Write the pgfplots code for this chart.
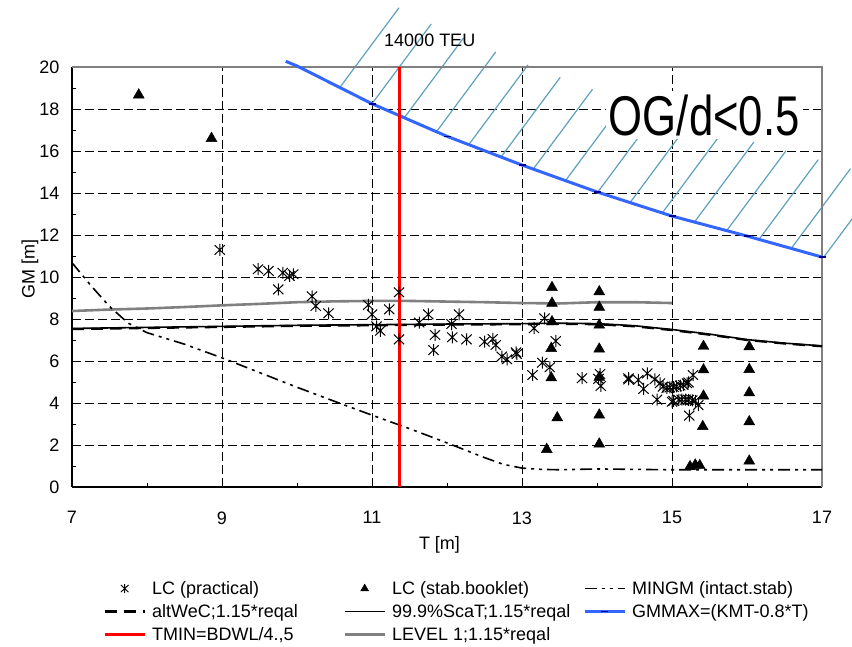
\documentclass[border=0pt]{standalone}
\usepackage{fontspec}
\setmainfont{Liberation Sans}
\usepackage{pgfplots}
\pgfplotsset{compat=1.18}
\usepackage{graphicx}

\definecolor{gmmaxblue}{RGB}{51,102,255}
\definecolor{markblue}{RGB}{0,0,150}
\definecolor{hatchblue}{RGB}{95,160,190}
\definecolor{levelgray}{RGB}{128,128,128}
\definecolor{tminred}{RGB}{255,0,0}

\newcommand{\labelfont}{\fontsize{18}{21}\selectfont}
\newcommand{\lentry}[1]{\makebox[191pt][l]{#1}}
\newcommand{\lentryb}[1]{\makebox[191pt][l]{#1}}

% star mark: vertical bar crossed by an X
\pgfdeclareplotmark{xstar}{%
  \pgfpathmoveto{\pgfqpoint{0pt}{\pgfplotmarksize}}%
  \pgfpathlineto{\pgfqpoint{0pt}{-\pgfplotmarksize}}%
  \pgfpathmoveto{\pgfqpoint{-0.85\pgfplotmarksize}{0.8\pgfplotmarksize}}%
  \pgfpathlineto{\pgfqpoint{0.85\pgfplotmarksize}{-0.8\pgfplotmarksize}}%
  \pgfpathmoveto{\pgfqpoint{-0.85\pgfplotmarksize}{-0.8\pgfplotmarksize}}%
  \pgfpathlineto{\pgfqpoint{0.85\pgfplotmarksize}{0.8\pgfplotmarksize}}%
  \pgfusepathqstroke}

\begin{document}
\begin{tikzpicture}
\path[use as bounding box] (-72pt,-159pt) rectangle (780pt,487pt);
\begin{axis}[
  at={(0pt,0pt)}, anchor=south west,
  scale only axis, width=750pt, height=420pt,
  xmin=7, xmax=17, ymin=0, ymax=20,
  clip=false,
  axis x line=bottom, axis y line=left,
  axis line style={-, line width=1.2pt, black},
  xtick={7,9,...,17}, minor xtick={8,10,...,16},
  ytick={0,2,...,20}, minor ytick={1,3,...,19},
  tick align=inside, major tick length=0pt, minor tick length=4pt,
  tick style={black, line width=0.8pt},
  grid=major,
  major grid style={black, line width=0.6pt, dash pattern=on 9pt off 4pt},
  /pgf/number format/assume math mode=true,
  tick label style={font=\labelfont},
  xticklabel style={yshift=-21pt},
  yticklabel style={xshift=-9pt},
  xlabel={T [m]}, ylabel={GM [m]},
  every axis x label/.style={at={(axis description cs:0.49,-0.138)}, anchor=center, font=\labelfont},
  every axis y label/.style={at={(axis description cs:-0.056,0.52)}, rotate=90, anchor=center, font=\labelfont},
  legend columns=3,
  legend style={
    at={(axis description cs:0.0413,-0.224)}, anchor=north west,
    draw=none, fill=none, font=\labelfont,
    inner sep=0pt, row sep=8.5pt,
    /tikz/every odd column/.append style={column sep=6pt},
    nodes={inner sep=0pt, anchor=west},
  },
  legend cell align=left,
  legend image code/.code={\draw[mark repeat=2,mark phase=2,#1] plot coordinates {(0pt,0pt) (20pt,0pt) (40pt,0pt)};},
]

% hatching above the GMMAX limit
\addplot[hatchblue, line width=1.2pt, unbounded coords=jump, forget plot] coordinates {
  (10.57,19.02) (11.36,22.82) (nan,nan)
  (11.00,18.25) (11.79,22.05) (nan,nan)
  (11.43,17.58) (12.22,21.38) (nan,nan)
  (11.86,16.92) (12.65,20.72) (nan,nan)
  (12.29,16.30) (13.08,20.10) (nan,nan)
  (12.72,15.71) (13.51,19.51) (nan,nan)
  (13.15,15.14) (13.94,18.94) (nan,nan)
  (13.58,14.59) (14.37,18.39) (nan,nan)
  (14.01,14.04) (14.80,17.84) (nan,nan)
  (14.44,13.54) (15.23,17.34) (nan,nan)
  (14.87,13.05) (15.66,16.85) (nan,nan)
  (15.30,12.62) (16.09,16.42) (nan,nan)
  (15.73,12.21) (16.52,16.01) (nan,nan)
  (16.16,11.79) (16.95,15.59) (nan,nan)
  (16.59,11.36) (17.38,15.16) (nan,nan)
  (17.02,10.93) (17.81,14.73)
};

% frame on top and right
\draw[levelgray, line width=1.2pt] (rel axis cs:0,1) -- (rel axis cs:1,1) -- (rel axis cs:1,0);

% LEVEL 1
\addplot[levelgray, line width=2.6pt, forget plot] coordinates {
  (7,8.38) (7.5,8.45) (8,8.5) (8.5,8.57) (9,8.65) (9.5,8.72) (10,8.8) (10.5,8.84)
  (11,8.86) (11.5,8.86) (12,8.83) (12.5,8.8) (13,8.76) (13.5,8.74) (14,8.8) (14.5,8.8) (15,8.76)
};
% 99.9%ScaT
\addplot[black, line width=1.6pt, forget plot] coordinates {
  (7,7.55) (8,7.6) (9,7.65) (10,7.7) (11,7.73) (12,7.76) (13,7.78) (13.5,7.8) (14,7.78)
  (14.5,7.68) (15,7.5) (15.5,7.28) (16,7.02) (16.5,6.85) (17,6.72)
};
% altWeC
\addplot[black, line width=2.2pt, dash pattern=on 12pt off 7pt, forget plot] coordinates {
  (7,7.52) (8,7.57) (9,7.62) (10,7.67) (11,7.7) (12,7.73) (13,7.75) (13.5,7.77) (14,7.75)
  (14.5,7.65) (15,7.47) (15.5,7.25) (16,7.0) (16.5,6.83) (17,6.7)
};
% MINGM
\addplot[black, line width=1.6pt, dash pattern=on 12pt off 5pt on 3pt off 5pt on 3pt off 5pt, forget plot] coordinates {
  (7,10.68) (7.25,9.6) (7.5,8.6) (7.75,7.8) (8,7.35) (8.5,6.8) (9,6.15) (9.5,5.45) (10,4.75)
  (10.5,4.08) (11,3.42) (11.5,2.78) (12,2.1) (12.5,1.4) (12.75,1.08) (13,0.9) (13.25,0.84)
  (13.5,0.82) (14,0.86) (14.5,0.84) (15,0.82) (16,0.82) (17,0.82)
};
% GMMAX
\addplot[gmmaxblue, line width=3pt, forget plot] coordinates {
  (9.85,20.27) (10,20.05) (11,18.25) (12,16.7) (13,15.33) (14,14.05) (15,12.9) (16,11.95) (17,10.95)
};
\addplot[only marks, mark=-, mark size=3.5pt, mark options={draw=markblue, line width=1.6pt}, forget plot] coordinates {
  (11,18.25) (12,16.7) (13,15.33) (14,14.05) (15,12.9) (16,11.95) (17,10.95)
};
% TMIN
\addplot[tminred, line width=3pt, forget plot] coordinates {(11.37,0) (11.37,20)};

% LC (stab.booklet)
\addplot[only marks, mark=triangle*, mark size=6.3pt, black, forget plot] coordinates {
  (7.89,18.67) (8.86,16.6)
  (13.4,9.5) (13.4,8.75) (13.4,7.87) (13.39,6.6) (13.39,5.2) (13.47,3.3) (13.33,1.79)
  (14.03,9.3) (14.03,8.56) (14.03,7.71) (14.03,6.57) (14.03,5.22) (14.03,3.43) (14.03,2.05)
  (15.42,6.7) (15.42,5.58) (15.42,4.33) (15.41,2.88) (15.24,0.97) (15.31,1.05) (15.37,1.02)
  (16.03,6.68) (16.03,5.6) (16.03,4.49) (16.03,3.11) (16.03,1.24)
};
% LC (practical)
\addplot[only marks, mark=xstar, mark size=6pt, black, line width=1pt, forget plot] coordinates {
  (8.97,11.29) (9.48,10.37) (9.62,10.29) (9.81,10.2) (9.9,10.05) (9.95,10.13) (9.75,9.41)
  (10.2,9.08) (10.25,8.62) (10.42,8.27) (10.95,8.67) (11.0,8.22) (11.06,7.65) (11.11,7.44)
  (11.23,8.46) (11.36,9.27) (11.36,7.03) (11.63,7.83) (11.75,8.22) (11.84,7.24) (11.82,6.52)
  (12.06,7.76) (12.07,7.13) (12.16,8.22) (12.26,7.03) (12.5,6.92) (12.61,7.05) (12.65,6.76)
  (12.73,6.21) (12.8,6.08) (12.92,6.41) (12.93,6.33) (13.16,7.56) (13.14,5.33) (13.3,8.03)
  (13.27,5.92) (13.37,5.7) (13.45,6.95) (13.8,5.18) (14.04,5.38) (14.05,4.81) (14.02,5.15)
  (14.42,5.18) (14.42,5.12) (14.55,5.1) (14.62,4.67) (14.67,5.41) (14.77,5.13) (14.8,4.16)
  (14.84,4.94) (14.88,4.78) (14.93,4.72) (14.97,4.74) (15.02,4.76) (15.06,4.79) (15.11,4.83)
  (15.15,4.86) (15.2,4.94) (15.22,4.98) (15.28,5.33) (15.0,4.06) (15.02,4.1) (15.09,4.15)
  (15.13,4.16) (15.18,4.16) (15.22,4.15) (15.27,4.13) (15.31,4.1) (15.35,3.9) (15.23,3.4)
};

% legend
\addlegendimage{only marks, mark=xstar, mark size=4.5pt, black, line width=0.9pt}
\addlegendentry{\lentry{LC (practical)}}
\addlegendimage{only marks, mark=triangle*, mark size=4.5pt, black}
\addlegendentry{\lentryb{LC (stab.booklet)}}
\addlegendimage{black, line width=1.6pt, dash pattern=on 12pt off 5pt on 3pt off 5pt on 3pt off 5pt}
\addlegendentry{MINGM (intact.stab)}
\addlegendimage{black, line width=2.2pt, dash pattern=on 12pt off 7pt}
\addlegendentry{\lentry{altWeC;1.15*reqal}}
\addlegendimage{black, line width=1.6pt}
\addlegendentry{\lentryb{99.9\%ScaT;1.15*reqal}}
\addlegendimage{gmmaxblue, line width=3pt, mark=-, mark size=3.5pt, mark options={draw=markblue, line width=1.6pt}}
\addlegendentry{GMMAX=(KMT-0.8*T)}
\addlegendimage{tminred, line width=3pt}
\addlegendentry{\lentry{TMIN=BDWL/4.,5}}
\addlegendimage{levelgray, line width=3pt}
\addlegendentry{\lentryb{LEVEL 1;1.15*reqal}}

\node[font=\labelfont] at (axis cs:11.77,21.29) {14000 TEU};
\node[fill=white, inner sep=3pt, anchor=base, font=\fontsize{56}{60}\selectfont] at (axis cs:15.43,16.76) {\scalebox{0.78}[1]{OG/d<0.5}};
\end{axis}
\end{tikzpicture}
\end{document}
